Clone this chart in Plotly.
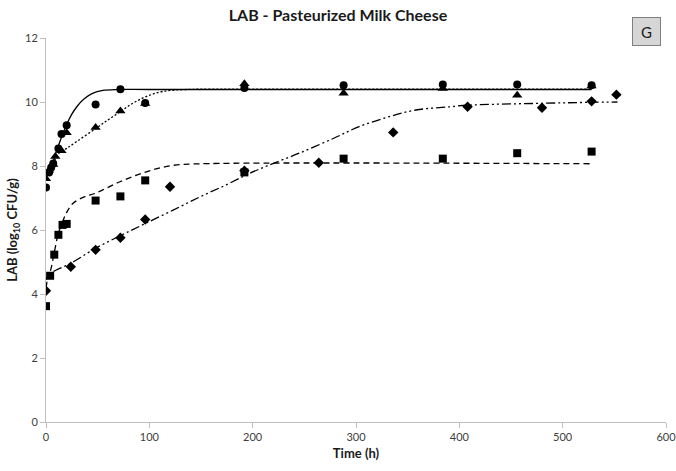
import plotly.graph_objects as go

# ---- observed data ----
circle_t = [0, 3, 5, 7, 12, 15, 20, 48, 72, 96, 192, 288, 384, 456, 528]
circle_y = [7.33, 7.8, 7.95, 8.08, 8.55, 9.0, 9.27, 9.92, 10.4, 9.97, 10.44, 10.52, 10.55, 10.55, 10.52]

tri_t = [0, 3, 7, 9, 15, 20, 48, 72, 96, 192, 288, 384, 456, 528]
tri_y = [7.6, 7.87, 8.05, 8.3, 8.48, 9.04, 9.2, 9.72, 9.95, 10.57, 10.27, 10.42, 10.21, 10.5]

sq_t = [0, 4, 8, 12, 16, 20, 48, 72, 96, 192, 288, 384, 456, 528]
sq_y = [3.62, 4.57, 5.23, 5.85, 6.16, 6.19, 6.92, 7.05, 7.55, 7.8, 8.23, 8.23, 8.4, 8.45]

dia_t = [0, 24, 48, 72, 96, 120, 192, 264, 336, 408, 480, 528, 552]
dia_y = [4.1, 4.85, 5.38, 5.76, 6.33, 7.35, 7.85, 8.1, 9.05, 9.85, 9.82, 10.02, 10.23]

# ---- fitted curves ----
fit_solid_t = [0, 5, 10, 15, 20, 25, 30, 37, 45, 55, 70, 100, 528]
fit_solid_y = [7.6, 7.95, 8.45, 8.9, 9.3, 9.62, 9.86, 10.1, 10.27, 10.36, 10.39, 10.39, 10.39]

fit_dot_t = [0, 4, 8, 12, 20, 30, 48, 60, 72, 84, 97, 113, 136, 170, 528]
fit_dot_y = [7.6, 7.9, 8.15, 8.38, 8.55, 8.77, 9.17, 9.44, 9.7, 9.96, 10.17, 10.33, 10.39, 10.4, 10.4]

fit_dash_t = [0, 4, 8, 12, 16, 20, 26, 36, 48, 71, 97, 123, 150, 528]
fit_dash_y = [4.45, 4.7, 5.3, 5.9, 6.25, 6.55, 6.83, 7.02, 7.15, 7.5, 7.82, 8.02, 8.07, 8.07]

fit_dd_t = [0, 3, 10, 24, 48, 73, 96, 123, 150, 175, 197, 216, 245, 278, 303, 332, 358, 391, 408, 481, 528, 553]
fit_dd_y = [4.1, 4.6, 4.75, 4.96, 5.43, 5.84, 6.2, 6.62, 7.05, 7.42, 7.77, 8.03, 8.4, 8.86, 9.23, 9.54, 9.75, 9.85, 9.9, 9.96, 9.99, 10.0]

title_text = "LAB - Pasteurized Milk Cheese"
x_title = "Time (h)"
y_title = "LAB (log<sub>10</sub> CFU/g)"
x_ticks = [0, 100, 200, 300, 400, 500, 600]
y_ticks = [0, 2, 4, 6, 8, 10, 12]
panel_label = "G"

FONT = "Lato, 'Open Sans', sans-serif"

fig = go.Figure()
lw = 1.3
fig.add_trace(go.Scatter(x=fit_solid_t, y=fit_solid_y, mode="lines", line_shape="spline",
                         line=dict(color="black", width=lw, dash="solid"), showlegend=False))
fig.add_trace(go.Scatter(x=fit_dot_t, y=fit_dot_y, mode="lines", line_shape="spline",
                         line=dict(color="black", width=lw, dash="2px,2px"), showlegend=False))
fig.add_trace(go.Scatter(x=fit_dash_t, y=fit_dash_y, mode="lines", line_shape="spline",
                         line=dict(color="black", width=lw, dash="6px,4px"), showlegend=False))
fig.add_trace(go.Scatter(x=fit_dd_t, y=fit_dd_y, mode="lines", line_shape="spline",
                         line=dict(color="black", width=lw, dash="9px,3px,2px,3px,2px,3px"), showlegend=False))

fig.add_trace(go.Scatter(x=circle_t, y=circle_y, mode="markers",
                         marker=dict(symbol="circle", size=8, color="black"), showlegend=False))
fig.add_trace(go.Scatter(x=tri_t, y=tri_y, mode="markers",
                         marker=dict(symbol="triangle-up", size=9, color="black"), showlegend=False))
fig.add_trace(go.Scatter(x=sq_t, y=sq_y, mode="markers",
                         marker=dict(symbol="square", size=8, color="black"), showlegend=False))
fig.add_trace(go.Scatter(x=dia_t, y=dia_y, mode="markers",
                         marker=dict(symbol="diamond", size=8, color="black"), showlegend=False))

axis_common = dict(showgrid=False, zeroline=False, showline=True, linecolor="#bfbfbf",
                   linewidth=1, ticks="outside", tickcolor="#bfbfbf", ticklen=5,
                   ticklabeloverflow="allow", automargin=False,
                   tickfont=dict(family=FONT, size=11, color="#404040"))

fig.update_layout(
    width=676, height=471,
    margin=dict(l=46, r=10, t=38, b=49),
    paper_bgcolor="white", plot_bgcolor="white",
    title=dict(text="<b>" + title_text + "</b>", x=0.5, xref="container", y=0.968, yanchor="middle",
               font=dict(family=FONT, size=16, color="#1a1a1a")),
    xaxis=dict(range=[0, 600], tickvals=x_ticks, **axis_common,
               title=dict(text="<b>" + x_title + "</b>", standoff=6,
                          font=dict(family=FONT, size=13, color="#1a1a1a"))),
    yaxis=dict(range=[0, 12], tickvals=y_ticks, **axis_common,
               title=dict(text="<b>" + y_title + "</b>", standoff=4,
                          font=dict(family=FONT, size=13, color="#1a1a1a"))),
    annotations=[dict(text=panel_label, xref="paper", yref="paper", x=0.9685, y=1.017,
                      xanchor="center", yanchor="middle", showarrow=False,
                      font=dict(family=FONT, size=15, color="#1a1a1a"),
                      bgcolor="#d6d6d6", bordercolor="#7f7f7f", borderwidth=1,
                      width=25, height=25)],
)

fig.write_html("out.html")
